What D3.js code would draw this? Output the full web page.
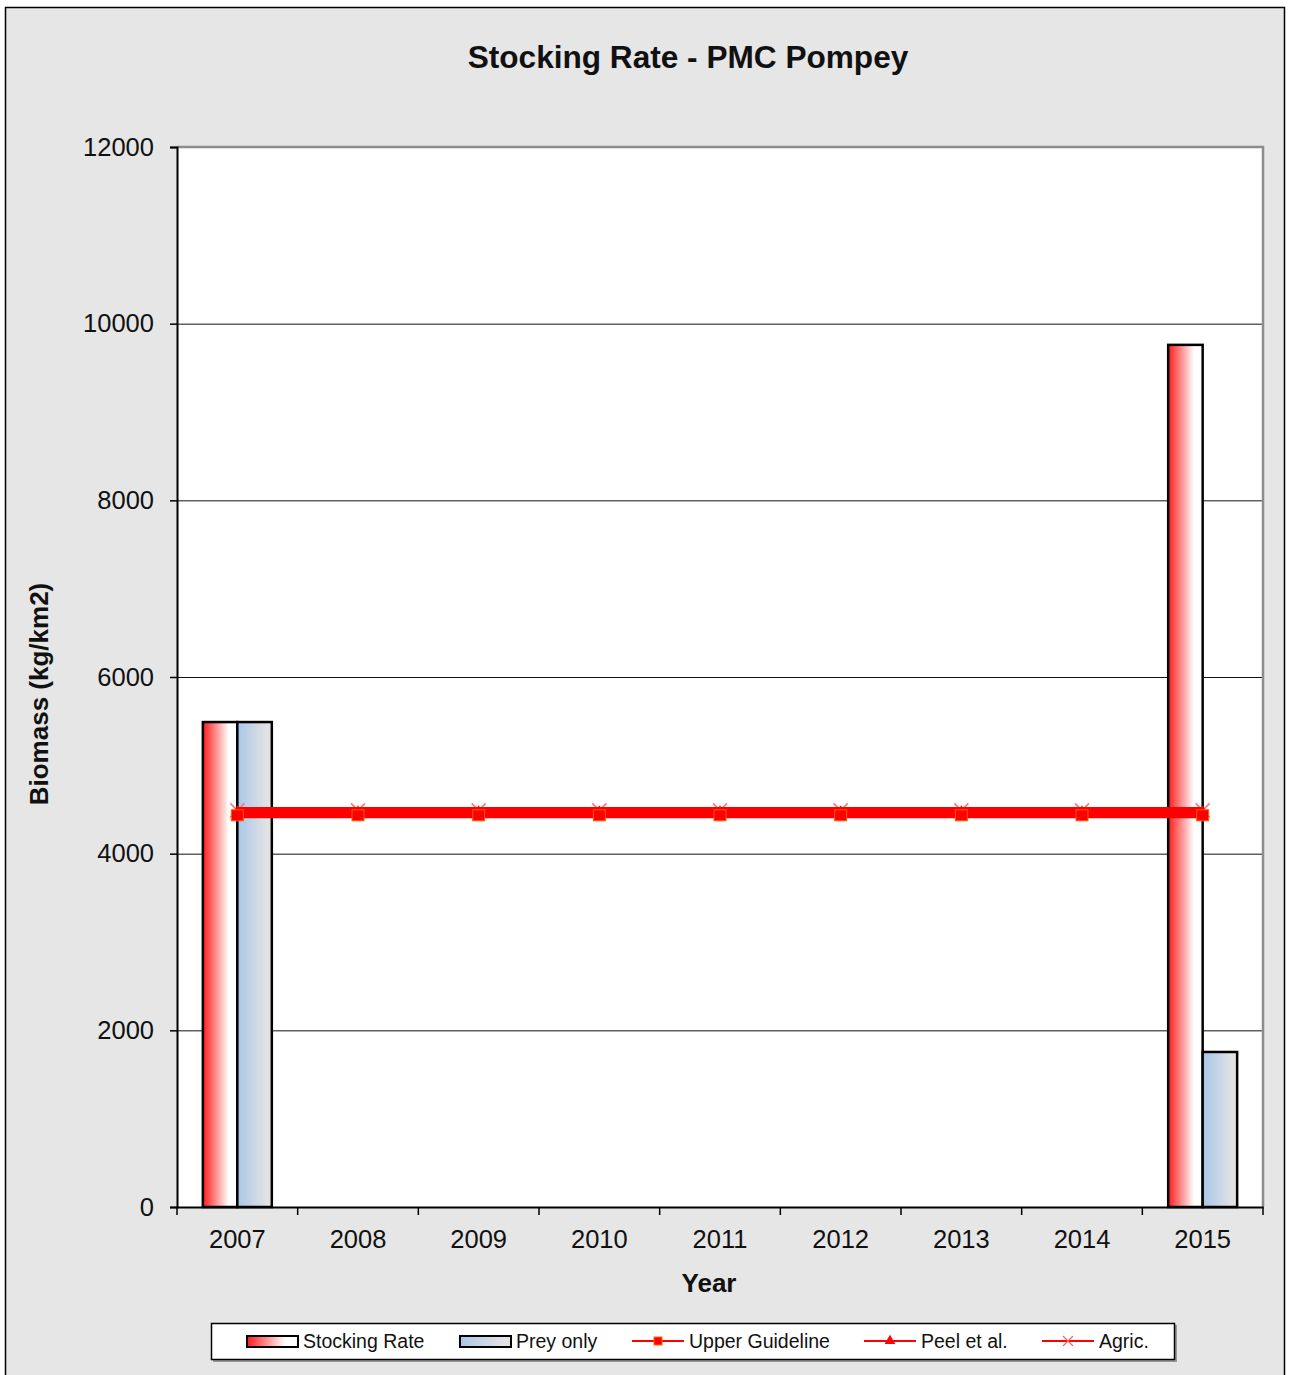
<!DOCTYPE html>
<html>
<head>
<meta charset="utf-8">
<script src="https://cdn.jsdelivr.net/npm/d3@7"></script>
<style>
  body { margin: 0; background: #fff; }
  svg { display: block; font-family: "Liberation Sans", Arial, sans-serif; }
</style>
</head>
<body>
<svg id="chart"></svg>
<script>
// Data
const years = ["2007", "2008", "2009", "2010", "2011", "2012", "2013", "2014", "2015"];
const stockingRate = [5490, null, null, null, null, null, null, null, 9760];
const preyOnly = [5490, null, null, null, null, null, null, null, 1755];
const upperGuideline = [4440, 4440, 4440, 4440, 4440, 4440, 4440, 4440, 4440];
const peelEtAl = [4460, 4460, 4460, 4460, 4460, 4460, 4460, 4460, 4460];
const agric = [4490, 4490, 4490, 4490, 4490, 4490, 4490, 4490, 4490];
const yTicks = [0, 2000, 4000, 6000, 8000, 10000, 12000];

const width = 1291, height = 1375;
const margin = { top: 147, right: 28, bottom: 168, left: 177 };

const svg = d3.select("#chart")
    .attr("width", width)
    .attr("height", height);

// outer frame
svg.append("rect")
    .attr("x", 5.5).attr("y", 7.5)
    .attr("width", 1279).attr("height", 1380)
    .attr("fill", "#e6e6e6")
    .attr("stroke", "#000").attr("stroke-width", 1.5);

const defs = svg.append("defs");
function grad(id, c1, c2, stopEnd) {
    const g = defs.append("linearGradient").attr("id", id)
        .attr("x1", "0%").attr("x2", "100%").attr("y1", "0%").attr("y2", "0%");
    g.append("stop").attr("offset", "0%").attr("stop-color", c1);
    g.append("stop").attr("offset", stopEnd).attr("stop-color", c2);
    g.append("stop").attr("offset", "100%").attr("stop-color", c2);
}
grad("grad-sr", "#ff1a1a", "#ffffff", "75%");
grad("grad-prey", "#a8c6e8", "#e2e2e4", "85%");

const x = d3.scaleBand()
    .domain(years)
    .range([margin.left, width - margin.right])
    .padding(0);

const x1 = d3.scaleBand()
    .domain(["sr", "prey"])
    .range([0, x.bandwidth()])
    .paddingInner(0)
    .paddingOuter(0.75);

const y = d3.scaleLinear()
    .domain([0, 12000])
    .range([height - margin.bottom, margin.top]);

// plot area
svg.append("rect")
    .attr("x", margin.left).attr("y", margin.top)
    .attr("width", width - margin.left - margin.right)
    .attr("height", y(0) - margin.top)
    .attr("fill", "#fff");

// gridlines
svg.append("g")
    .selectAll("line")
    .data(yTicks.filter(d => d > 0 && d < 12000))
    .join("line")
    .attr("x1", margin.left).attr("x2", width - margin.right)
    .attr("y1", d => y(d) + 0.5).attr("y2", d => y(d) + 0.5)
    .attr("stroke", "#111").attr("stroke-width", 1);

// top and right gray border
svg.append("path")
    .attr("d", `M${margin.left},${margin.top} H${width - margin.right} V${y(0)}`)
    .attr("fill", "none")
    .attr("stroke", "#8c8c8c").attr("stroke-width", 2.5);

// bars
const barData = [];
years.forEach((yr, i) => {
    if (stockingRate[i] != null) barData.push({ year: yr, key: "sr", value: stockingRate[i] });
    if (preyOnly[i] != null) barData.push({ year: yr, key: "prey", value: preyOnly[i] });
});

svg.append("g")
    .selectAll("rect")
    .data(barData)
    .join("rect")
    .attr("x", d => x(d.year) + x1(d.key))
    .attr("y", d => y(d.value))
    .attr("width", x1.bandwidth())
    .attr("height", d => y(0) - y(d.value))
    .attr("fill", d => d.key === "sr" ? "url(#grad-sr)" : "url(#grad-prey)")
    .attr("stroke", "#000").attr("stroke-width", 2.5);

// axes
const yAxis = d3.axisLeft(y)
    .tickValues(yTicks)
    .tickFormat(d3.format("d"))
    .tickSize(7)
    .tickPadding(16);

svg.append("g")
    .attr("transform", `translate(${margin.left},0)`)
    .call(yAxis)
    .call(g => g.select(".domain").attr("stroke", "#000").attr("stroke-width", 2))
    .call(g => g.selectAll(".tick line").attr("stroke", "#000").attr("stroke-width", 1.5))
    .call(g => g.selectAll("text")
        .attr("font-family", "Liberation Sans, Arial, sans-serif")
        .attr("font-size", "25.5px")
        .attr("fill", "#111"));

const xAxis = d3.axisBottom(x).tickSize(0).tickPadding(23);
const xg = svg.append("g")
    .attr("transform", `translate(0,${y(0)})`)
    .call(xAxis)
    .call(g => g.select(".domain").attr("stroke", "#000").attr("stroke-width", 2))
    .call(g => g.selectAll("text")
        .attr("font-family", "Liberation Sans, Arial, sans-serif")
        .attr("font-size", "25.5px")
        .attr("fill", "#111"));

// x ticks at category boundaries
const bounds = years.map(d => x(d)).concat([x(years[years.length - 1]) + x.bandwidth()]);
xg.append("g")
    .selectAll("line")
    .data(bounds)
    .join("line")
    .attr("x1", d => d).attr("x2", d => d)
    .attr("y1", 0).attr("y2", 8)
    .attr("stroke", "#000").attr("stroke-width", 1.5);

// lines
const cx = d => x(d) + x.bandwidth() / 2;
const line = d3.line()
    .x((d, i) => cx(years[i]))
    .y(d => y(d));

const lineSeries = [
    { name: "Upper Guideline", values: upperGuideline, marker: "square" },
    { name: "Peel et al.", values: peelEtAl, marker: "triangle" },
    { name: "Agric.", values: agric, marker: "x" }
];

// x markers of Agric. go under the line
svg.append("g")
    .selectAll("path")
    .data(agric)
    .join("path")
    .attr("d", (d, i) => {
        const px = cx(years[i]), py = y(d);
        return `M${px - 7},${py - 7} L${px + 7},${py + 7} M${px + 7},${py - 7} L${px - 7},${py + 7}`;
    })
    .attr("stroke", "#ff7373").attr("stroke-width", 1.5)
    .attr("fill", "none");

svg.append("g")
    .selectAll("path")
    .data(lineSeries)
    .join("path")
    .attr("d", d => line(d.values))
    .attr("fill", "none")
    .attr("stroke", "#ff0000")
    .attr("stroke-width", 7);

// triangles then squares
svg.append("g")
    .selectAll("path")
    .data(peelEtAl)
    .join("path")
    .attr("transform", (d, i) => `translate(${cx(years[i])},${y(d)})`)
    .attr("d", d3.symbol(d3.symbolTriangle, 80))
    .attr("fill", "#ff0000");

svg.append("g")
    .selectAll("rect")
    .data(upperGuideline)
    .join("rect")
    .attr("x", (d, i) => cx(years[i]) - 6)
    .attr("y", d => y(d) - 5)
    .attr("width", 12).attr("height", 11)
    .attr("fill", "#ff0000")
    .attr("stroke", "#ff5a00").attr("stroke-width", 1);

// titles
svg.append("text")
    .attr("x", 688).attr("y", 68)
    .attr("text-anchor", "middle")
    .attr("font-size", "31.6px").attr("font-weight", "bold")
    .attr("fill", "#111")
    .text("Stocking Rate - PMC Pompey");

svg.append("text")
    .attr("x", 709).attr("y", 1292)
    .attr("text-anchor", "middle")
    .attr("font-size", "26px").attr("font-weight", "bold")
    .attr("fill", "#111")
    .text("Year");

svg.append("text")
    .attr("transform", "translate(48,694) rotate(-90)")
    .attr("text-anchor", "middle")
    .attr("font-size", "26px").attr("font-weight", "bold")
    .attr("fill", "#111")
    .text("Biomass (kg/km2)");

// legend
const legend = svg.append("g");
legend.append("rect")
    .attr("x", 213).attr("y", 1325)
    .attr("width", 964).attr("height", 37)
    .attr("fill", "#999");
legend.append("rect")
    .attr("x", 211.5).attr("y", 1323.5)
    .attr("width", 963).attr("height", 36)
    .attr("fill", "#fff")
    .attr("stroke", "#000").attr("stroke-width", 1.5);

const legendItems = [
    { name: "Stocking Rate", type: "bar", fill: "url(#grad-sr)", x: 247 },
    { name: "Prey only", type: "bar", fill: "url(#grad-prey)", x: 460 },
    { name: "Upper Guideline", type: "line", marker: "square", x: 632 },
    { name: "Peel et al.", type: "line", marker: "triangle", x: 864 },
    { name: "Agric.", type: "line", marker: "x", x: 1042 }
];
const ly = 1341;

const li = legend.selectAll("g.item")
    .data(legendItems)
    .join("g")
    .attr("class", "item");

li.filter(d => d.type === "bar")
    .append("rect")
    .attr("x", d => d.x).attr("y", ly - 5)
    .attr("width", 51).attr("height", 11)
    .attr("fill", d => d.fill)
    .attr("stroke", "#000").attr("stroke-width", 2);

li.filter(d => d.type === "line")
    .append("line")
    .attr("x1", d => d.x).attr("x2", d => d.x + 52)
    .attr("y1", ly).attr("y2", ly)
    .attr("stroke", "#ff0000").attr("stroke-width", 2);

li.filter(d => d.marker === "square")
    .append("rect")
    .attr("x", d => d.x + 26 - 4).attr("y", ly - 4)
    .attr("width", 8).attr("height", 8)
    .attr("fill", "#ff0000").attr("stroke", "#ff6a00").attr("stroke-width", 1);

li.filter(d => d.marker === "triangle")
    .append("path")
    .attr("transform", d => `translate(${d.x + 26},${ly})`)
    .attr("d", d3.symbol(d3.symbolTriangle, 50))
    .attr("fill", "#ff0000");

li.filter(d => d.marker === "x")
    .append("path")
    .attr("d", d => {
        const px = d.x + 26;
        return `M${px - 5},${ly - 5} L${px + 5},${ly + 5} M${px + 5},${ly - 5} L${px - 5},${ly + 5}`;
    })
    .attr("stroke", "#ff6060").attr("stroke-width", 1.2);

li.append("text")
    .attr("x", d => d.x + (d.type === "bar" ? 56 : 57))
    .attr("y", ly + 7)
    .attr("font-size", "19.5px")
    .attr("fill", "#111")
    .text(d => d.name);
</script>
</body>
</html>
